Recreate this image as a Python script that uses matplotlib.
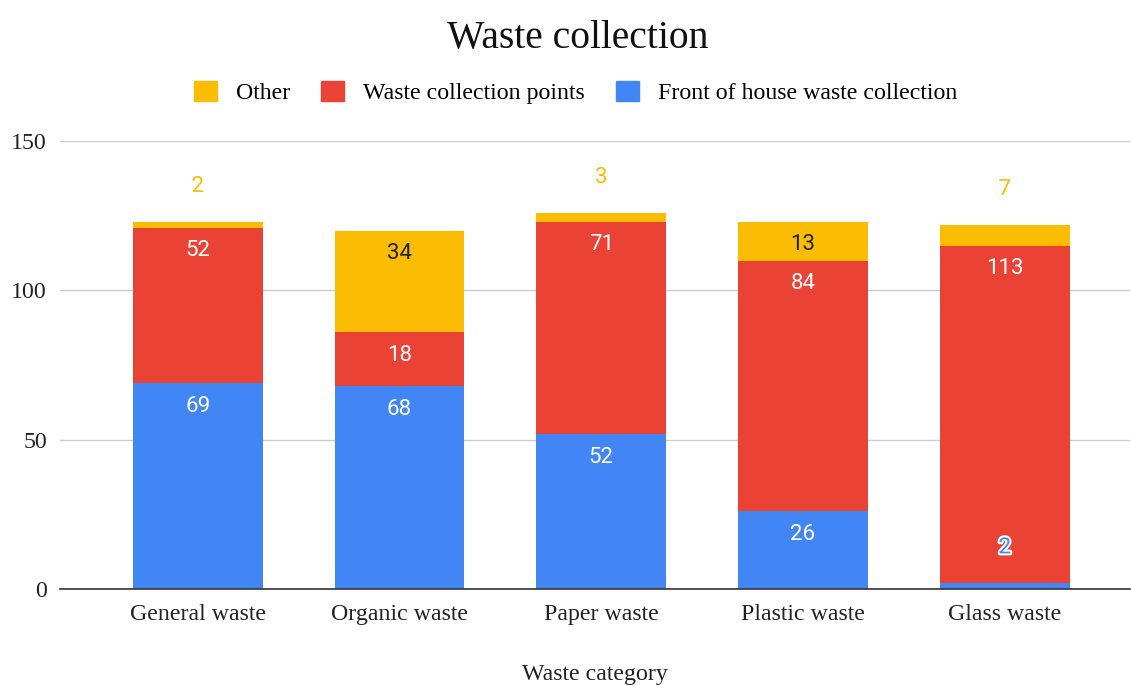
import matplotlib

matplotlib.use("Agg")

import matplotlib.pyplot as plt
import matplotlib.patheffects as pe
from matplotlib.patches import Patch
import numpy as np

categories = ["General waste", "Organic waste", "Paper waste", "Plastic waste", "Glass waste"]
front_of_house = [69, 68, 52, 26, 2]
collection_points = [52, 18, 71, 84, 113]
other = [2, 34, 3, 13, 7]

BLUE = "#4285F4"
RED = "#EA4335"
YELLOW = "#FBBC04"

SERIF = ["Liberation Serif", "DejaVu Serif"]
LABEL_FONT = ["Roboto", "DejaVu Sans"]
TEXT_SIZE = 17.2


def add_labels(ax, x, bottoms, values, color, text_color, min_inside=10):
    for xi, b, v in zip(x, bottoms, values):
        top = b + v
        if v >= min_inside:
            ax.text(xi, top - 7.8, str(v), ha="center", va="center",
                    fontsize=16, family=LABEL_FONT, color=text_color)
        else:
            txt = ax.text(xi, top + 11.8, str(v), ha="center", va="center",
                          fontsize=16, family=LABEL_FONT, color=color)
            txt.set_path_effects([pe.withStroke(linewidth=3, foreground="white")])


def main() -> None:
    fig = plt.figure(figsize=(11.31, 6.85), dpi=100)
    ax = fig.add_axes([0.053, 0.1401, 0.946, 0.654])

    x = np.arange(len(categories))
    width = 0.644
    front = np.array(front_of_house)
    points = np.array(collection_points)
    oth = np.array(other)

    ax.bar(x, front, width, color=BLUE, zorder=3)
    ax.bar(x, points, width, bottom=front, color=RED, zorder=3)
    ax.bar(x, oth, width, bottom=front + points, color=YELLOW, zorder=3)

    add_labels(ax, x, np.zeros(len(x)), front, BLUE, "white")
    add_labels(ax, x, front, points, RED, "white")
    add_labels(ax, x, front + points, oth, YELLOW, "#222222")

    ax.set_xlim(-0.683, 4.62)
    ax.set_ylim(0, 150)
    ax.set_yticks([0, 50, 100, 150])
    ax.grid(axis="y", color="#cccccc", linewidth=1, zorder=0)
    for side in ["top", "right", "left"]:
        ax.spines[side].set_visible(False)
    ax.spines["bottom"].set_color("#333333")
    ax.spines["bottom"].set_linewidth(1.2)
    ax.spines["bottom"].set_zorder(4)
    ax.tick_params(axis="both", length=0, labelsize=TEXT_SIZE, colors="#222222")
    ax.tick_params(axis="y", pad=9.4)
    ax.tick_params(axis="x", pad=10.5)
    ax.set_xticks(x)
    ax.set_xticklabels(categories)
    for lab in ax.get_xticklabels() + ax.get_yticklabels():
        lab.set_family(SERIF)

    ax.set_xlabel("Waste category", family=SERIF, fontsize=TEXT_SIZE, color="#222222", labelpad=28)

    fig.text(0.511, 0.944, "Waste collection", ha="center", va="center",
             family=SERIF, fontsize=28.5, color="#111111")

    handles = [Patch(color=YELLOW), Patch(color=RED), Patch(color=BLUE)]
    labels = ["Other", "Waste collection points", "Front of house waste collection"]
    fig.legend(handles, labels, loc="center", bbox_to_anchor=(0.509, 0.865), ncol=3,
               frameon=False, prop={"family": SERIF, "size": TEXT_SIZE},
               handlelength=0.95, handleheight=0.95, columnspacing=1.3, handletextpad=0.8)

    fig.savefig("out.png", dpi=100)
    plt.close(fig)


if __name__ == "__main__":
    main()
